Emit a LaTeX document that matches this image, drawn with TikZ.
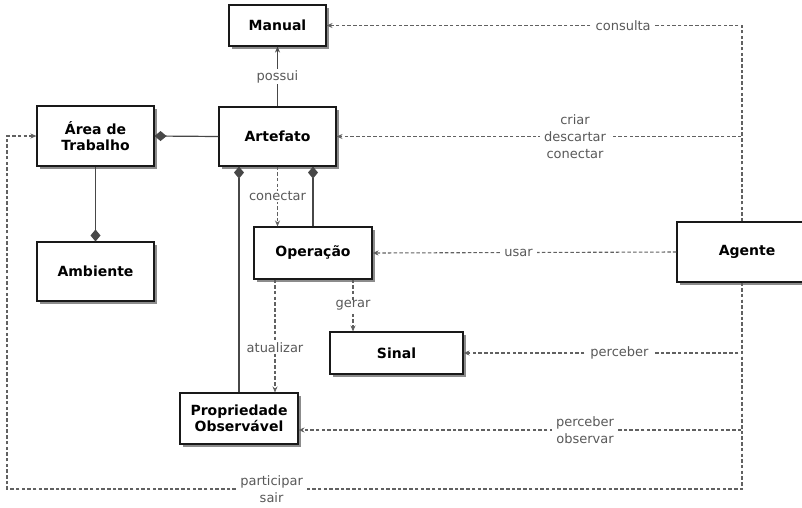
\documentclass[tikz,border=0pt]{standalone}
\usepackage{fontspec}
\setmainfont{DejaVu Sans}
\usetikzlibrary{arrows.meta,shadows,positioning}
\definecolor{lnk}{gray}{0.38}
\definecolor{lbltxt}{gray}{0.35}
\tikzset{
  box/.style={draw=black!90, line width=1.1pt, fill=white, rectangle, inner sep=0pt,
    font=\fontsize{14}{16.5}\selectfont\bfseries, align=center,
    drop shadow={shadow xshift=2.5pt, shadow yshift=-3pt, opacity=0.6, fill=black!75}},
  solidlink/.style={draw=black!72, line width=1.2pt},
  dashlink/.style={draw=lnk, line width=1.1pt, dash pattern=on 3.5pt off 2.2pt},
  tip/.style={-{Stealth[length=6pt,width=5pt]}},
  dia/.style={{Diamond[length=12pt,width=10pt]}-},
  lbl/.style={fill=white, inner xsep=4pt, inner ysep=1pt, text=lbltxt, font=\fontsize{13}{17}\selectfont, align=center}
}
\begin{document}
\begin{tikzpicture}[x=1pt,y=-1pt]
\useasboundingbox (0,0) rectangle (802,507);
\fill[white] (0,0) rectangle (802,507);

\node[box, minimum width=97pt, minimum height=41pt] (man) at (277.5,25.5) {Manual};
\node[box, minimum width=117pt, minimum height=60pt] (area) at (95.5,136) {Área de\\Trabalho};
\node[box, minimum width=117pt, minimum height=59pt] (art) at (277.5,136.5) {Artefato};
\node[box, minimum width=117pt, minimum height=59pt] (amb) at (95.5,271.5) {Ambiente};
\node[box, minimum width=118pt, minimum height=52pt] (op) at (313,253) {Operação};
\node[box, minimum width=133pt, minimum height=42pt] (sin) at (396.5,353) {Sinal};
\node[box, minimum width=118pt, minimum height=51pt] (prop) at (239,418.5) {Propriedade\\Observável};
\node[box, minimum width=140pt, minimum height=60pt] (ag) at (747,252) {Agente};

\coordinate (agN) at ([xshift=-5pt]ag.north);
\coordinate (agS) at ([xshift=-5pt]ag.south);
\coordinate (corner) at (7,489);

% solid links
\draw[solidlink, tip] (art.north) -- node[lbl]{possui} (man.south);
\draw[solidlink, dia] (area.east) -- (art.west);
\draw[solidlink, -{Diamond[length=12pt,width=10pt]}] (area.south) -- (amb.north);
\draw[solidlink, dia] (art.south -| prop.north) -- (prop.north);
\draw[solidlink, dia] (art.south -| op.north) -- (op.north);

% dashed links
\draw[dashlink, tip] (agN) |- node[lbl, pos=0.643]{consulta} (man.east);
\draw[dashlink, tip] (agN) |- node[lbl, pos=0.706]{criar\\descartar\\conectar} (art.east);
\draw[dashlink, tip] (art.south) -- node[lbl]{conectar} (art.south |- op.north);
\draw[dashlink, tip] (ag.west) -- node[lbl, pos=0.52]{usar} (op.east);
\draw[dashlink, tip] ([xshift=40pt]op.south) -- node[lbl]{gerar} ([xshift=40pt]op.south |- sin.north);
\draw[dashlink, tip] ([xshift=-38pt]op.south) -- node[lbl, pos=0.6]{atualizar} ([xshift=-38pt]op.south |- prop.north);
\draw[dashlink, tip] (agS) |- node[lbl, pos=0.72]{perceber} (sin.east);
\draw[dashlink, tip] (agS) |- node[lbl, pos=0.677]{perceber\\observar} ([yshift=-11.5pt]prop.east);
\draw[dashlink, tip] (agS) |- node[lbl, pos=0.82]{participar\\sair} (corner) |- (area.west);
\end{tikzpicture}
\end{document}
